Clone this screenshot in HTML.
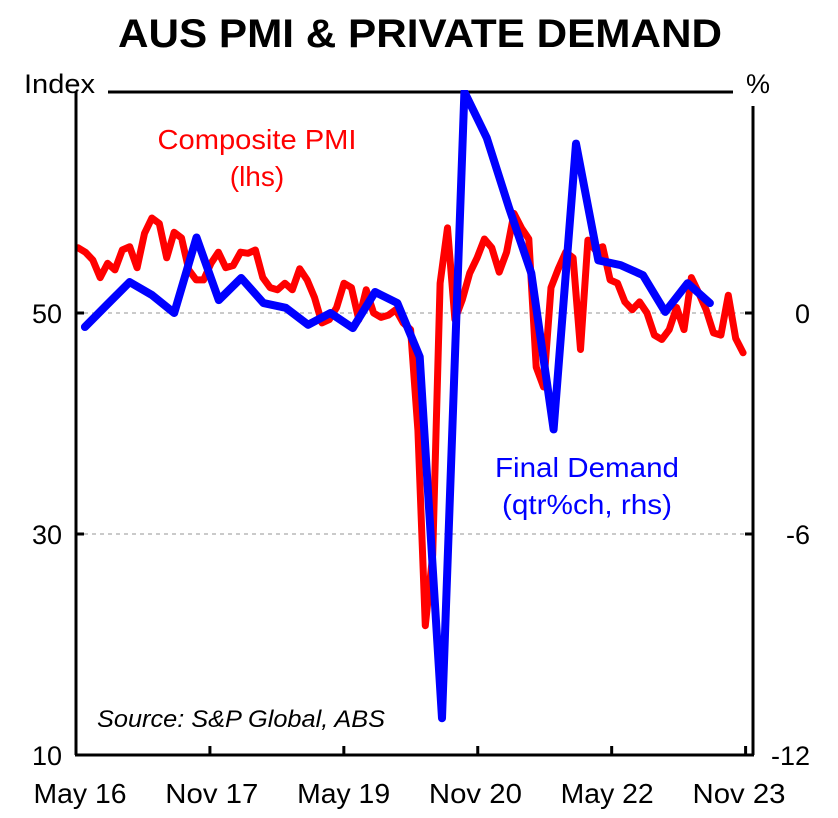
<!DOCTYPE html>
<html><head><meta charset="utf-8"><style>
body{margin:0;background:#fff;width:838px;height:813px;overflow:hidden}
text{font-family:"Liberation Sans",Arial,sans-serif}
</style></head><body>
<svg id="chart" width="838" height="813" xmlns="http://www.w3.org/2000/svg">
<text x="420" y="47" text-anchor="middle" font-size="40" font-weight="bold" textLength="604" lengthAdjust="spacingAndGlyphs">AUS PMI &amp; PRIVATE DEMAND</text>
<text x="24" y="93" font-size="27" textLength="71" lengthAdjust="spacingAndGlyphs">Index</text>
<text x="746" y="93" font-size="27">%</text>
<line x1="108" y1="92" x2="733" y2="92" stroke="#000" stroke-width="3"/>
<g id="grid"></g>
<defs><clipPath id="pc"><rect x="76" y="90" width="680" height="667"/></clipPath></defs>
<g id="series" clip-path="url(#pc)"></g>
<g id="axes"></g>
<text x="257" y="149" text-anchor="middle" font-size="28" fill="#ff0000" textLength="199" lengthAdjust="spacingAndGlyphs">Composite PMI</text>
<text x="257" y="186" text-anchor="middle" font-size="28" fill="#ff0000">(lhs)</text>
<text x="587" y="477" text-anchor="middle" font-size="28" fill="#0000ff" textLength="184" lengthAdjust="spacingAndGlyphs">Final Demand</text>
<text x="587" y="514" text-anchor="middle" font-size="28" fill="#0000ff" textLength="170" lengthAdjust="spacingAndGlyphs">(qtr%ch, rhs)</text>
<text x="97" y="727" font-size="24" font-style="italic" textLength="288" lengthAdjust="spacingAndGlyphs">Source: S&amp;P Global, ABS</text>
</svg>
<script>
const pmiValues=[55.9,55.5,54.8,53.2,54.5,53.9,55.7,56,54.1,57.2,58.6,58.1,55,57.3,56.8,53.9,53,53,54.5,55.5,54.1,54.3,55.5,55.4,55.7,53.2,52.3,52.1,52.7,52.1,54,53,51.4,49.1,49.4,50.5,52.7,52.3,49.4,52.1,50,49.6,49.8,50.3,49.1,48.5,39.4,21.7,28.1,52.7,57.7,49.4,51.2,53.6,55,56.7,55.9,53.7,55.5,59,57.7,56.7,45.1,43.3,52.3,54,55.5,55,46.7,56.6,55.7,56,53,52.7,51,50.3,51,50,48,47.6,48.5,50.5,48.5,53.2,51.8,50.3,48.2,48,51.6,47.7,46.4];
const demandValues=[-0.38,0.23,0.84,0.49,0,2.05,0.35,0.95,0.27,0.14,-0.32,0,-0.41,0.57,0.27,-1.19,-11,6.0,4.76,2.86,1.08,-3.16,4.6,1.43,1.3,1.03,0.03,0.81,0.27];
const xTickLabels=["May 16","Nov 17","May 19","Nov 20","May 22","Nov 23"];
const leftTicks=[10,30,50];
const rightTicks=[-12,-6,0];
const X0=76,PXM=7.44,YB=755,YT=92;
const xm=m=>X0+m*PXM;
const yl=v=>YB-(v-10)/60*(YB-YT);
const yr=v=>YB-(v+12)/18*(YB-YT);
const NS="http://www.w3.org/2000/svg";
function mk(tag,attrs,parent,txt){const e=document.createElementNS(NS,tag);for(const k in attrs)e.setAttribute(k,attrs[k]);if(txt!==undefined)e.textContent=txt;document.getElementById(parent).appendChild(e);return e;}
[30,50].forEach(v=>{
 const g=mk('line',{x1:X0,x2:753,y1:yl(v),y2:yl(v),stroke:'#aaa','stroke-width':1.3,'stroke-dasharray':'4,4'},'grid');
 
 
});
const rp=pmiValues.map((v,i)=>(X0+2+i*7.39).toFixed(1)+','+yl(v).toFixed(1)).join(' ');
const red=mk('polyline',{points:rp,fill:'none',stroke:'#ff0000','stroke-width':7,'stroke-linejoin':'round','stroke-linecap':'round'},'series');


const bp=demandValues.map((v,i)=>xm(1.2+3*i).toFixed(1)+','+yr(v).toFixed(1)).join(' ');
const blue=mk('polyline',{points:bp,fill:'none',stroke:'#0000ff','stroke-width':8,'stroke-linejoin':'round','stroke-linecap':'round'},'series');


const la=mk('line',{x1:X0,x2:X0,y1:YT,y2:YB,stroke:'#000','stroke-width':3},'axes');


const ra=mk('line',{x1:753,x2:753,y1:106,y2:YB,stroke:'#000','stroke-width':3},'axes');


const ba=mk('line',{x1:X0-1,x2:754,y1:YB,y2:YB,stroke:'#000','stroke-width':3},'axes');


leftTicks.forEach(v=>{
 mk('line',{x1:X0,x2:X0+8,y1:yl(v),y2:yl(v),stroke:'#000','stroke-width':3},'axes');
 const t=mk('text',{x:X0-14,y:yl(v)+10,'text-anchor':'end','font-size':27},'axes',String(v));
 
 
});
rightTicks.forEach(v=>{
 mk('line',{x1:745,x2:753,y1:yr(v),y2:yr(v),stroke:'#000','stroke-width':3},'axes');
 const t=mk('text',{x:810,y:yr(v)+10,'text-anchor':'end','font-size':27},'axes',String(v));
 
 
});
xTickLabels.forEach((s,i)=>{
 const x=xm(i*18);
 if(i>0)mk('line',{x1:x,x2:x,y1:YB,y2:YB-9,stroke:'#000','stroke-width':3},'axes');
 const t=mk('text',{x:80+131.8*i,y:803,'text-anchor':'middle','font-size':28,textLength:93,lengthAdjust:'spacingAndGlyphs'},'axes',s);
 
 
});
</script>
</body></html>
